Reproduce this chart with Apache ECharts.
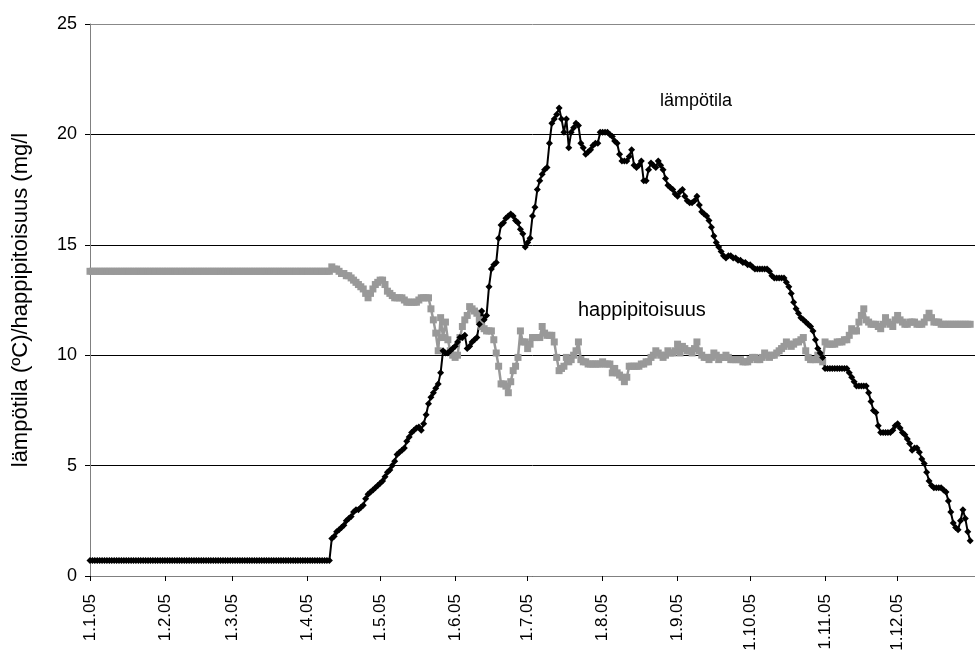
<!DOCTYPE html>
<html>
<head>
<meta charset="utf-8">
<script src="https://cdn.jsdelivr.net/npm/echarts@6/dist/echarts.min.js"></script>
<style>
  html, body { margin: 0; padding: 0; background: #fff; }
  #main { width: 975px; height: 664px; }
</style>
</head>
<body>
<div id="main"></div>
<script>
// tick labels shown on the x axis (month starts)
var monthLabels = ['1.1.05', '1.2.05', '1.3.05', '1.4.05', '1.5.05', '1.6.05',
  '1.7.05', '1.8.05', '1.9.05', '1.10.05', '1.11.05', '1.12.05'];

// lämpötila, one value per day from 1.1.05
var lampotila = [
  0.7,0.7,0.7,0.7,0.7,0.7,0.7,0.7,0.7,0.7,
  0.7,0.7,0.7,0.7,0.7,0.7,0.7,0.7,0.7,0.7,
  0.7,0.7,0.7,0.7,0.7,0.7,0.7,0.7,0.7,0.7,
  0.7,0.7,0.7,0.7,0.7,0.7,0.7,0.7,0.7,0.7,
  0.7,0.7,0.7,0.7,0.7,0.7,0.7,0.7,0.7,0.7,
  0.7,0.7,0.7,0.7,0.7,0.7,0.7,0.7,0.7,0.7,
  0.7,0.7,0.7,0.7,0.7,0.7,0.7,0.7,0.7,0.7,
  0.7,0.7,0.7,0.7,0.7,0.7,0.7,0.7,0.7,0.7,
  0.7,0.7,0.7,0.7,0.7,0.7,0.7,0.7,0.7,0.7,
  0.7,0.7,0.7,0.7,0.7,0.7,0.7,0.7,0.7,0.7,
  1.7,1.8,2.0,2.1,2.2,2.3,2.5,2.6,2.7,2.9,
  3.0,3.0,3.1,3.2,3.5,3.7,3.8,3.9,4.0,4.1,
  4.2,4.3,4.5,4.7,4.8,5.0,5.2,5.5,5.6,5.7,
  5.8,6.1,6.3,6.5,6.6,6.7,6.75,6.6,6.9,7.3,
  7.8,8.1,8.3,8.5,8.7,9.2,10.2,10.1,10.1,10.2,
  10.3,10.4,10.6,10.8,10.8,10.9,10.3,10.4,10.6,10.7,
  10.8,11.4,12.0,11.6,11.8,13.1,13.9,14.1,14.2,15.3,
  15.9,16.0,16.2,16.3,16.4,16.3,16.1,16.0,15.7,15.5,
  14.9,15.1,15.3,16.3,16.7,17.5,17.9,18.2,18.4,18.5,
  19.6,20.5,20.7,20.9,21.2,20.7,20.1,20.7,19.4,20.1,
  20.3,20.5,20.4,19.6,19.4,19.1,19.2,19.3,19.5,19.6,
  19.6,20.1,20.1,20.1,20.1,20.0,19.9,19.7,19.6,19.1,
  18.8,18.8,18.8,19.0,19.3,18.6,18.5,18.6,18.8,17.9,
  17.9,18.4,18.7,18.6,18.5,18.8,18.6,18.4,18.0,17.7,
  17.6,17.5,17.3,17.2,17.4,17.5,17.2,17.0,16.9,16.9,
  17.0,17.2,16.8,16.5,16.4,16.3,16.1,15.8,15.4,15.1,
  14.9,14.7,14.5,14.4,14.5,14.5,14.4,14.4,14.3,14.3,
  14.2,14.2,14.1,14.1,14.0,13.9,13.9,13.9,13.9,13.9,
  13.9,13.8,13.6,13.5,13.5,13.5,13.5,13.5,13.3,13.1,
  12.8,12.4,12.1,11.9,11.7,11.6,11.5,11.4,11.3,11.1,
  10.7,10.3,10.1,9.9,9.4,9.4,9.4,9.4,9.4,9.4,
  9.4,9.4,9.4,9.4,9.2,9.0,8.8,8.6,8.6,8.6,
  8.6,8.6,8.3,7.9,7.5,7.4,6.8,6.5,6.5,6.5,
  6.5,6.5,6.6,6.8,6.9,6.7,6.5,6.4,6.2,6.0,
  5.7,5.8,5.8,5.6,5.3,5.1,4.7,4.3,4.1,4.0,
  4.0,4.0,4.0,3.9,3.8,3.4,2.9,2.4,2.2,2.1,
  2.5,3.0,2.6,2.0,1.6
];

// happipitoisuus, one value per day from 1.1.05
var happi = [
  13.8,13.8,13.8,13.8,13.8,13.8,13.8,13.8,13.8,13.8,
  13.8,13.8,13.8,13.8,13.8,13.8,13.8,13.8,13.8,13.8,
  13.8,13.8,13.8,13.8,13.8,13.8,13.8,13.8,13.8,13.8,
  13.8,13.8,13.8,13.8,13.8,13.8,13.8,13.8,13.8,13.8,
  13.8,13.8,13.8,13.8,13.8,13.8,13.8,13.8,13.8,13.8,
  13.8,13.8,13.8,13.8,13.8,13.8,13.8,13.8,13.8,13.8,
  13.8,13.8,13.8,13.8,13.8,13.8,13.8,13.8,13.8,13.8,
  13.8,13.8,13.8,13.8,13.8,13.8,13.8,13.8,13.8,13.8,
  13.8,13.8,13.8,13.8,13.8,13.8,13.8,13.8,13.8,13.8,
  13.8,13.8,13.8,13.8,13.8,13.8,13.8,13.8,13.8,13.8,
  14.0,13.9,13.9,13.8,13.7,13.7,13.6,13.6,13.5,13.4,
  13.3,13.2,13.1,13.0,12.8,12.6,12.8,13.0,13.2,13.3,
  13.4,13.4,13.2,12.9,12.8,12.7,12.6,12.6,12.6,12.6,
  12.5,12.4,12.4,12.4,12.4,12.4,12.5,12.6,12.6,12.6,
  12.6,12.1,11.6,11.0,10.2,11.7,10.8,11.5,10.7,10.2,
  10.0,9.9,10.0,10.8,11.3,11.6,11.8,12.2,12.1,12.0,
  11.9,11.6,11.3,11.2,11.1,11.1,11.1,10.7,10.1,9.5,
  8.7,8.7,8.6,8.3,8.8,9.3,9.5,9.9,11.1,10.6,
  10.6,10.3,10.5,10.8,10.8,10.8,10.8,11.3,11.0,10.9,
  10.9,10.9,10.6,9.9,9.3,9.4,9.5,9.9,9.7,9.8,
  10.0,10.2,10.6,9.8,9.7,9.7,9.6,9.6,9.6,9.6,
  9.6,9.6,9.7,9.6,9.6,9.6,9.2,9.4,9.2,9.1,
  9.0,8.8,9.0,9.5,9.5,9.5,9.5,9.5,9.6,9.6,
  9.7,9.7,9.9,10.0,10.2,10.1,10.0,9.9,10.0,10.2,
  10.1,10.1,10.2,10.5,10.1,10.4,10.3,10.2,10.2,10.1,
  10.3,10.6,10.2,10.0,9.9,9.9,9.8,9.9,10.1,10.0,
  9.8,9.9,9.9,10.0,9.9,9.8,9.8,9.8,9.8,9.8,
  9.7,9.7,9.7,9.8,9.9,9.9,9.8,9.8,9.9,10.1,
  10.0,9.9,10.0,10.0,10.1,10.2,10.3,10.4,10.6,10.5,
  10.4,10.5,10.6,10.6,10.7,10.8,10.2,9.9,9.8,9.8,
  9.8,10.0,9.8,9.7,10.6,10.5,10.5,10.5,10.5,10.6,
  10.6,10.6,10.7,10.7,10.9,11.2,11.1,11.1,11.5,11.8,
  12.1,11.6,11.5,11.4,11.4,11.4,11.3,11.2,11.4,11.7,
  11.5,11.4,11.3,11.6,11.8,11.6,11.5,11.4,11.4,11.5,
  11.5,11.5,11.4,11.4,11.4,11.5,11.7,11.9,11.7,11.5,
  11.5,11.5,11.4,11.4,11.4,11.4,11.4,11.4,11.4,11.4,
  11.4,11.4,11.4,11.4,11.4
];

// day categories 1.1.05 .. 2.1.06
var days = [];
var t0 = Date.UTC(2005, 0, 1);
for (var i = 0; i < 367; i++) {
  var d = new Date(t0 + i * 86400000);
  days.push(d.getUTCDate() + '.' + (d.getUTCMonth() + 1) + '.' + String(d.getUTCFullYear()).slice(2));
}

var font = 'Liberation Sans';
function isMonthStart(idx, val) { return monthLabels.indexOf(val) >= 0; }

var chart = echarts.init(document.getElementById('main'));
chart.setOption({
  animation: false,
  backgroundColor: '#fff',
  textStyle: { fontFamily: font },
  grid: { left: 90, right: 0, top: 24, bottom: 88 },
  xAxis: {
    type: 'category',
    data: days,
    boundaryGap: false,
    axisLine: { lineStyle: { color: '#808080', width: 1 } },
    axisTick: { interval: isMonthStart, length: 5, lineStyle: { color: '#000' } },
    axisLabel: {
      interval: isMonthStart, rotate: 90, margin: 18,
      fontSize: 17, color: '#000', fontFamily: font
    },
    splitLine: { show: false }
  },
  yAxis: {
    type: 'value',
    min: 0, max: 25, interval: 5,
    name: 'lämpötila (ºC)/happipitoisuus (mg/l',
    nameLocation: 'middle',
    nameGap: 58,
    nameTextStyle: { fontSize: 22, color: '#000', fontFamily: font },
    axisLine: { show: true, lineStyle: { color: '#808080' } },
    axisTick: { show: true, length: 5, lineStyle: { color: '#000' } },
    axisLabel: { fontSize: 18, color: '#000', margin: 13, fontFamily: font },
    splitLine: { lineStyle: { color: ['#000', '#000', '#000', '#000', '#000', '#888'], width: 1 } }
  },
  graphic: [
    { type: 'text', left: 660, top: 92, style: { text: 'lämpötila', fontSize: 18, fontFamily: font, fill: '#000' } },
    { type: 'text', left: 578, top: 300, style: { text: 'happipitoisuus', fontSize: 20, fontFamily: font, fill: '#000' } }
  ],
  series: [
    {
      name: 'happipitoisuus',
      type: 'line',
      data: happi,
      symbol: 'rect',
      symbolSize: 7,
      showAllSymbol: true,
      lineStyle: { color: '#999', width: 2.5 },
      itemStyle: { color: '#999' }
    },
    {
      name: 'lämpötila',
      type: 'line',
      data: lampotila,
      symbol: 'diamond',
      symbolSize: 7,
      showAllSymbol: true,
      lineStyle: { color: '#000', width: 2 },
      itemStyle: { color: '#000' }
    }
  ]
});
</script>
</body>
</html>
